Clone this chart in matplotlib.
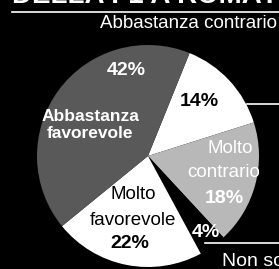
import matplotlib
matplotlib.use("Agg")
import matplotlib.pyplot as plt
from matplotlib.lines import Line2D

# Sondaggio: favorevoli/contrari alla F1 a Roma
categories = ["Abbastanza contrario", "Molto contrario", "Non so",
              "Molto favorevole", "Abbastanza favorevole"]
values = [14, 18, 4, 22, 42]
colors = ["white", "#b8b8b8", "black", "white", "#595959"]

W, H = 279, 269
plt.rcParams['font.family'] = ['Liberation Sans', 'DejaVu Sans']
fig = plt.figure(figsize=(W / 100, H / 100), dpi=100, facecolor="black")

# pie centre (148,156) px, radius 111 px
cx, cy, r = 148, 156, 111
ax = fig.add_axes([(cx - r) / W, (H - cy - r) / H, 2 * r / W, 2 * r / H])
ax.set_facecolor("black")
ax.pie(values, colors=colors, startangle=68, counterclock=False,
       wedgeprops=dict(linewidth=0))
ax.set_xlim(-1, 1)
ax.set_ylim(-1, 1)
ax.axis("off")


def lab(x, y, s, color, size=13.5, bold=False):
    ax.text(x, y, s, color=color, fontsize=size, ha="center", va="center",
            fontweight="bold" if bold else "normal")


# labels inside the pie
lab(-0.2, 0.77, "42%", "white", 14, True)
lab(-0.52, 0.36, "Abbastanza", "white", 12.5, True)
lab(-0.52, 0.20, "favorevole", "white", 12.5, True)
lab(0.46, 0.49, "14%", "black", 14, True)
lab(0.74, 0.07, "Molto", "white")
lab(0.68, -0.15, "contrario", "white")
lab(0.69, -0.38, "18%", "white", 14, True)
lab(-0.13, -0.35, "Molto", "black")
lab(-0.14, -0.58, "favorevole", "black")
lab(-0.16, -0.79, "22%", "black", 14, True)
lab(0.52, -0.69, "4%", "white", 14, True)

# title (cut off at the top) and outside labels
fig.text(12 / W, 1 - 3 / H, "DELLA F1 A ROMA?", color="white", fontsize=20,
         fontweight="bold", ha="left", va="baseline")
fig.text(277 / W, 1 - 24 / H, "Abbastanza contrario", color="white",
         fontsize=13.5, ha="right", va="center")
fig.text(222 / W, 1 - 261 / H, "Non so", color="white", fontsize=14,
         ha="left", va="center")

for x0, y0 in [(12, 12), (247, 104), (205, 243)]:
    fig.add_artist(Line2D([x0 / W, 1], [1 - y0 / H, 1 - y0 / H],
                          color="white", linewidth=1.2))

fig.savefig("out.png", dpi=100, facecolor="black")
